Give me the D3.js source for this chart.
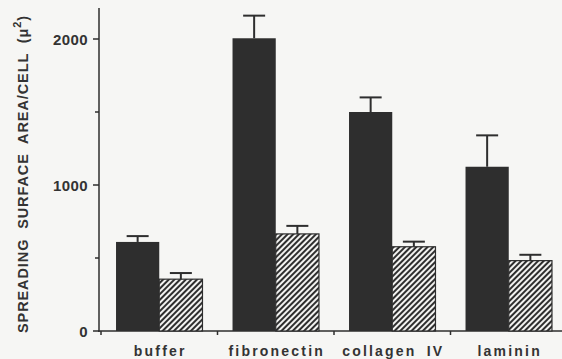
<!DOCTYPE html>
<html lang="en">
<head>
  <script src="https://d3js.org/d3.v7.min.js"></script>
  <style>
    body { margin: 0; background: #f6f6f4; }
    text { font-family: "Liberation Sans", Arial, sans-serif; font-weight: bold; fill: #333; }
  </style>
</head>
<body>
<svg width="562" height="359"></svg>
<script>
  // data
  var categories = ["buffer", "fibronectin", "collagen IV", "laminin"];
  var solidValues = [610, 2005, 1500, 1125];
  var solidErrors = [40, 155, 100, 215];
  var hatchValues = [355, 665, 577, 482];
  var hatchErrors = [42, 55, 35, 40];
  var yTicks = [0, 1000, 2000];
  var yMinorTicks = [500, 1500];

  var svg = d3.select("svg");
  var ink = "#2e2e2e";

  var defs = svg.append("defs");
  var pat = defs.append("pattern")
    .attr("id", "hatch")
    .attr("patternUnits", "userSpaceOnUse")
    .attr("width", 4).attr("height", 4)
    .attr("patternTransform", "rotate(45)");
  pat.append("rect").attr("width", 4).attr("height", 4).attr("fill", "#f2f2f0");
  pat.append("rect").attr("width", 2).attr("height", 4).attr("fill", ink);

  var x = d3.scaleBand().domain(categories).range([101, 567]).paddingInner(0.258).paddingOuter(0.129);
  var y = d3.scaleLinear().domain([0, 2000]).range([331, 39]);
  var half = x.bandwidth() / 2;

  // y axis
  svg.append("line").attr("x1", 99).attr("x2", 99).attr("y1", 8).attr("y2", 332)
    .attr("stroke", ink).attr("stroke-width", 1.5);
  svg.selectAll(".ymaj").data(yTicks).enter().append("line")
    .attr("x1", 93).attr("x2", 99)
    .attr("y1", function(d) { return y(d); }).attr("y2", function(d) { return y(d); })
    .attr("stroke", ink).attr("stroke-width", 1.5);
  svg.selectAll(".ymin").data(yMinorTicks).enter().append("line")
    .attr("x1", 95).attr("x2", 99)
    .attr("y1", function(d) { return y(d); }).attr("y2", function(d) { return y(d); })
    .attr("stroke", ink).attr("stroke-width", 1.5);
  svg.selectAll(".ylab").data(yTicks).enter().append("text")
    .attr("x", 88).attr("y", function(d) { return y(d) + 5.5; })
    .attr("text-anchor", "end").attr("font-size", "15px")
    .attr("letter-spacing", "0.4px")
    .text(function(d) { return d; });

  // x axis
  svg.append("line").attr("x1", 98).attr("x2", 562).attr("y1", 331).attr("y2", 331)
    .attr("stroke", ink).attr("stroke-width", 1.5);
  var bounds = categories.map(function(c) { return x(c) - x.step() * x.paddingInner() / 2; });
  svg.selectAll(".xtick").data(bounds).enter().append("line")
    .attr("x1", function(d) { return d; }).attr("x2", function(d) { return d; })
    .attr("y1", 331).attr("y2", 335)
    .attr("stroke", ink).attr("stroke-width", 1.5);

  // bars
  var g = svg.append("g");
  g.selectAll(".solid").data(categories).enter().append("rect")
    .attr("x", function(d) { return x(d); })
    .attr("width", half)
    .attr("y", function(d, i) { return y(solidValues[i]); })
    .attr("height", function(d, i) { return y(0) - y(solidValues[i]); })
    .attr("fill", ink);
  g.selectAll(".hatch").data(categories).enter().append("rect")
    .attr("x", function(d) { return x(d) + half; })
    .attr("width", half)
    .attr("y", function(d, i) { return y(hatchValues[i]); })
    .attr("height", function(d, i) { return y(0) - y(hatchValues[i]); })
    .attr("fill", "url(#hatch)").attr("stroke", ink).attr("stroke-width", 1.2);

  // error bars
  function errBars(vals, errs, offset) {
    categories.forEach(function(c, i) {
      var cx = x(c) + offset + half / 2;
      g.append("line").attr("x1", cx).attr("x2", cx)
        .attr("y1", y(vals[i])).attr("y2", y(vals[i] + errs[i]))
        .attr("stroke", ink).attr("stroke-width", 2);
      g.append("line").attr("x1", cx - 11).attr("x2", cx + 11)
        .attr("y1", y(vals[i] + errs[i])).attr("y2", y(vals[i] + errs[i]))
        .attr("stroke", ink).attr("stroke-width", 2);
    });
  }
  errBars(solidValues, solidErrors, 0);
  errBars(hatchValues, hatchErrors, half);

  // category labels
  svg.selectAll(".xlab").data(categories).enter().append("text")
    .attr("x", function(d) { return x(d) + half + 1; })
    .attr("y", 356)
    .attr("text-anchor", "middle").attr("font-size", "14px")
    .attr("letter-spacing", "2.2px")
    .attr("word-spacing", "4px")
    .text(function(d) { return d; });

  // y title
  var yt = svg.append("text")
    .attr("transform", "translate(28,174) rotate(-90)")
    .attr("text-anchor", "middle").attr("font-size", "14.5px")
    .attr("letter-spacing", "0.9px")
    .style("white-space", "pre");
  yt.append("tspan").text("SPREADING  SURFACE  AREA/CELL  (\u03bc");
  yt.append("tspan").attr("dy", -7).attr("font-size", "11px").text("2");
  yt.append("tspan").attr("dy", 7).text(")");
</script>
</body>
</html>
